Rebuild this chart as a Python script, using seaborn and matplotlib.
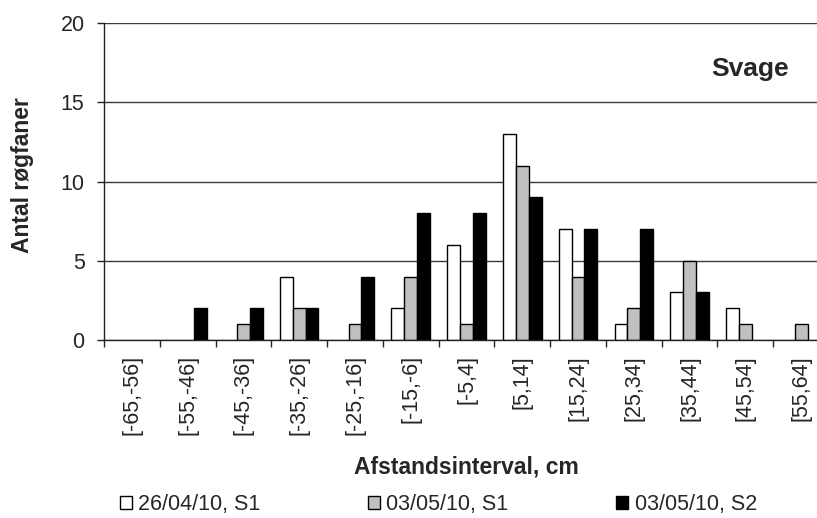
import numpy as np
import pandas as pd
import matplotlib
matplotlib.use("Agg")
import matplotlib.pyplot as plt
from matplotlib.patches import Patch
import seaborn as sns

intervals = ["[-65,-56]", "[-55,-46]", "[-45,-36]", "[-35,-26]", "[-25,-16]",
             "[-15,-6]", "[-5,4]", "[5,14]", "[15,24]", "[25,34]",
             "[35,44]", "[45,54]", "[55,64]"]
series_names = ["26/04/10, S1", "03/05/10, S1", "03/05/10, S2"]
s1_2604 = [0, 0, 0, 4, 0, 2, 6, 13, 7, 1, 3, 2, 0]
s1_0305 = [0, 0, 1, 2, 1, 4, 1, 11, 4, 2, 5, 1, 1]
s2_0305 = [0, 2, 2, 2, 4, 8, 8, 9, 7, 7, 3, 0, 0]
colors = ["white", "#c0c0c0", "black"]

df = pd.DataFrame({
    "interval": intervals * 3,
    "antal": s1_2604 + s1_0305 + s2_0305,
    "serie": [series_names[0]] * 13 + [series_names[1]] * 13 + [series_names[2]] * 13,
})

sns.set_theme(style="white")
plt.rcParams["font.family"] = ["Liberation Sans", "DejaVu Sans"]

fig = plt.figure(figsize=(8.17, 5.18), dpi=100)
# plot area runs a little past the right edge of the figure
ax = fig.add_axes([0.1273, 0.3436, 0.8874, 0.612])

sns.barplot(data=df, x="interval", y="antal", hue="serie", order=intervals,
            hue_order=series_names, palette=colors, edgecolor="black",
            linewidth=1.0, width=0.69, gap=0, legend=False, ax=ax,
            err_kws={"linewidth": 0})

# empty bins get no outline
for p in ax.patches:
    if p.get_height() == 0:
        p.set_linewidth(0)

ax.set_ylim(0, 20)
ax.set_xlim(-0.5, len(intervals) - 0.5)
ax.set_yticks([0, 5, 10, 15, 20])
ax.yaxis.grid(True, color="#3a3a3a", linewidth=1.0)
ax.set_axisbelow(True)

for side in ["top", "right"]:
    ax.spines[side].set_visible(False)
for side in ["left", "bottom"]:
    ax.spines[side].set_color("#222222")
    ax.spines[side].set_linewidth(1.0)

ax.tick_params(axis="y", which="major", length=5, width=1, color="#222222",
               direction="out", labelsize=15.5, pad=9, left=True)
ax.set_xticks(np.arange(-0.5, len(intervals), 1.0), minor=True)
ax.tick_params(axis="x", which="minor", length=5, width=1, color="#222222",
               direction="out", bottom=True)
ax.tick_params(axis="x", which="major", length=0, labelsize=15.5, pad=11)
plt.setp(ax.get_xticklabels(), rotation=90)

ax.set_ylabel("Antal røgfaner", fontsize=16.5, fontweight="bold")
ax.yaxis.set_label_coords(-0.113, 0.52)
ax.yaxis.label.set_va("center")
ax.set_xlabel("Afstandsinterval, cm", fontsize=16.5, fontweight="bold")
ax.xaxis.set_label_coords(0.5, -0.40)
ax.xaxis.label.set_va("center")

ax.text(0.945, 0.855, "Svage", transform=ax.transAxes, ha="right", va="center",
        fontsize=19, fontweight="bold")

handles = [Patch(facecolor=c, edgecolor="black", linewidth=1.0) for c in colors]
fig.legend(handles, series_names, loc="center left",
           bbox_to_anchor=(120 / 817, 0.026), borderpad=0, borderaxespad=0,
           ncol=3, frameon=False, fontsize=15.5, handlelength=0.55,
           handleheight=0.55, handletextpad=0.3, columnspacing=5.0)

fig.savefig("out.png", dpi=100)
